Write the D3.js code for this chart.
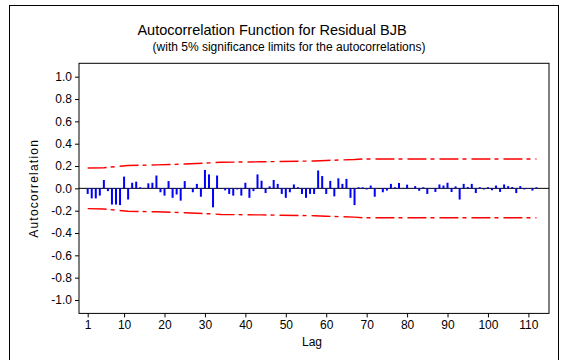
<!DOCTYPE html>
<html>
<head>
<meta charset="utf-8">
<script src="https://cdn.jsdelivr.net/npm/d3@7"></script>
<style>
  html, body { margin: 0; padding: 0; background: #fff; }
  svg { display: block; font-family: "Liberation Sans", Arial, sans-serif; }
</style>
</head>
<body>
<script>
// Residual autocorrelations by lag
const acf = [
  -0.05, -0.09, -0.09, -0.065, 0.075, -0.025, -0.145, -0.145, -0.15, 0.105,
  -0.10, 0.05, 0.06, 0.01, 0.004, 0.045, 0.05, 0.115, -0.035, -0.065,
  0.065, -0.085, -0.055, -0.11, 0.065, 0.004, -0.035, 0.04, -0.075, 0.165,
  0.125, -0.17, 0.115, 0.003, -0.018, -0.05, -0.065, -0.01, -0.065, 0.05,
  -0.085, -0.025, 0.125, 0.068, -0.042, 0.018, 0.075, 0.04, -0.05, -0.085,
  -0.035, 0.035, 0.01, -0.05, -0.085, -0.05, -0.05, 0.16, 0.11, -0.05,
  0.067, -0.072, 0.09, 0.04, 0.085, -0.085, -0.15, 0.01, 0.01, -0.01,
  0.025, -0.075, 0.003, -0.035, -0.02, 0.04, 0.01, 0.048, 0.004, 0.033,
  -0.003, 0.02, -0.022, 0.01, -0.05, 0.003, -0.032, 0.035, 0.025, 0.05,
  -0.033, 0.018, -0.10, 0.04, 0.012, 0.04, -0.042, 0.01, -0.01, 0.01,
  -0.017, 0.025, -0.032, 0.035, 0.02, 0.012, -0.042, 0.02, -0.01, 0.003,
  -0.02, 0.01
];
const lags = d3.range(1, acf.length + 1);

// 5% significance limits (upper; lower is the mirror image)
const limitLags   = [1, 5, 8, 11, 18, 25, 31, 34, 44, 57, 60, 67, 69, 112];
const limitValues = [0.182, 0.185, 0.195, 0.205, 0.21, 0.218, 0.228, 0.234, 0.238, 0.245, 0.25, 0.258, 0.263, 0.263];

const xTicks = [1, 10, 20, 30, 40, 50, 60, 70, 80, 90, 100, 110];
const yTicks = [-1.0, -0.8, -0.6, -0.4, -0.2, 0.0, 0.2, 0.4, 0.6, 0.8, 1.0];

const W = 567, H = 360;
const plot = { left: 79, right: 549, top: 63.3, bottom: 313.4 };

const svg = d3.select("body").append("svg")
  .attr("width", W).attr("height", H);

svg.append("rect").attr("width", W).attr("height", H).attr("fill", "#fff");

// outer panel border
svg.append("rect")
  .attr("x", 9.5).attr("y", 5.5)
  .attr("width", 549).attr("height", 400)
  .attr("fill", "none").attr("stroke", "#000").attr("stroke-width", 1);

const x = d3.scaleLinear().domain([-1.15, 115.1]).range([plot.left, plot.right]);
const y = d3.scaleLinear().domain([-1.12, 1.12]).range([plot.bottom, plot.top]);

// titles
svg.append("text")
  .attr("x", 272).attr("y", 35)
  .attr("text-anchor", "middle")
  .attr("font-size", 14.5)
  .attr("fill", "#000")
  .text("Autocorrelation Function for Residual BJB");
svg.append("text")
  .attr("x", 289).attr("y", 51)
  .attr("text-anchor", "middle")
  .attr("font-size", 12)
  .attr("fill", "#000")
  .text("(with 5% significance limits for the autocorrelations)");

// significance limit lines
const limitPts = limitLags.map((l, i) => [l, limitValues[i]]);
const lineGen = d3.line().x(d => x(d[0])).y(d => y(d[1]));
[1, -1].forEach(sign => {
  svg.append("path")
    .datum(limitPts.map(p => [p[0], sign * p[1]]))
    .attr("d", lineGen)
    .attr("fill", "none")
    .attr("stroke", "#ff0000")
    .attr("stroke-width", 1.4)
    .attr("stroke-dasharray", "19,4,4,5");
});

// zero reference line
svg.append("line")
  .attr("x1", plot.left).attr("x2", plot.right)
  .attr("y1", y(0)).attr("y2", y(0))
  .attr("stroke", "#000").attr("stroke-width", 1);

// autocorrelation bars
svg.append("g").selectAll("rect")
  .data(lags)
  .join("rect")
  .attr("x", d => x(d) - 1)
  .attr("width", 2)
  .attr("y", (d, i) => Math.min(y(acf[i]), y(0)))
  .attr("height", (d, i) => Math.abs(y(acf[i]) - y(0)))
  .attr("fill", "#0000ff");

// plot frame
svg.append("rect")
  .attr("x", plot.left).attr("y", plot.top)
  .attr("width", plot.right - plot.left).attr("height", plot.bottom - plot.top)
  .attr("fill", "none").attr("stroke", "#000").attr("stroke-width", 1);

// axes
const fmt = v => (v < 0 ? "-" : "") + Math.abs(v).toFixed(1);
const yAxis = svg.append("g")
  .attr("transform", `translate(${plot.left},0)`)
  .call(d3.axisLeft(y).tickValues(yTicks).tickFormat(fmt).tickSize(4).tickPadding(3));
const xAxis = svg.append("g")
  .attr("transform", `translate(0,${plot.bottom})`)
  .call(d3.axisBottom(x).tickValues(xTicks).tickFormat(d3.format("d")).tickSize(4).tickPadding(3));

[yAxis, xAxis].forEach(g => {
  g.select(".domain").remove();
  g.selectAll("line").attr("stroke", "#000");
  g.selectAll("text")
    .attr("font-family", "'Liberation Sans', Arial, sans-serif")
    .attr("font-size", 12)
    .attr("fill", "#000");
});

// axis titles
svg.append("text")
  .attr("x", 312).attr("y", 346)
  .attr("text-anchor", "middle")
  .attr("font-size", 12)
  .attr("fill", "#000")
  .text("Lag");
svg.append("text")
  .attr("transform", `translate(38,${y(0)}) rotate(-90)`)
  .attr("text-anchor", "middle")
  .attr("font-size", 12)
  .attr("letter-spacing", 1.2)
  .attr("fill", "#000")
  .text("Autocorrelation");
</script>
</body>
</html>
